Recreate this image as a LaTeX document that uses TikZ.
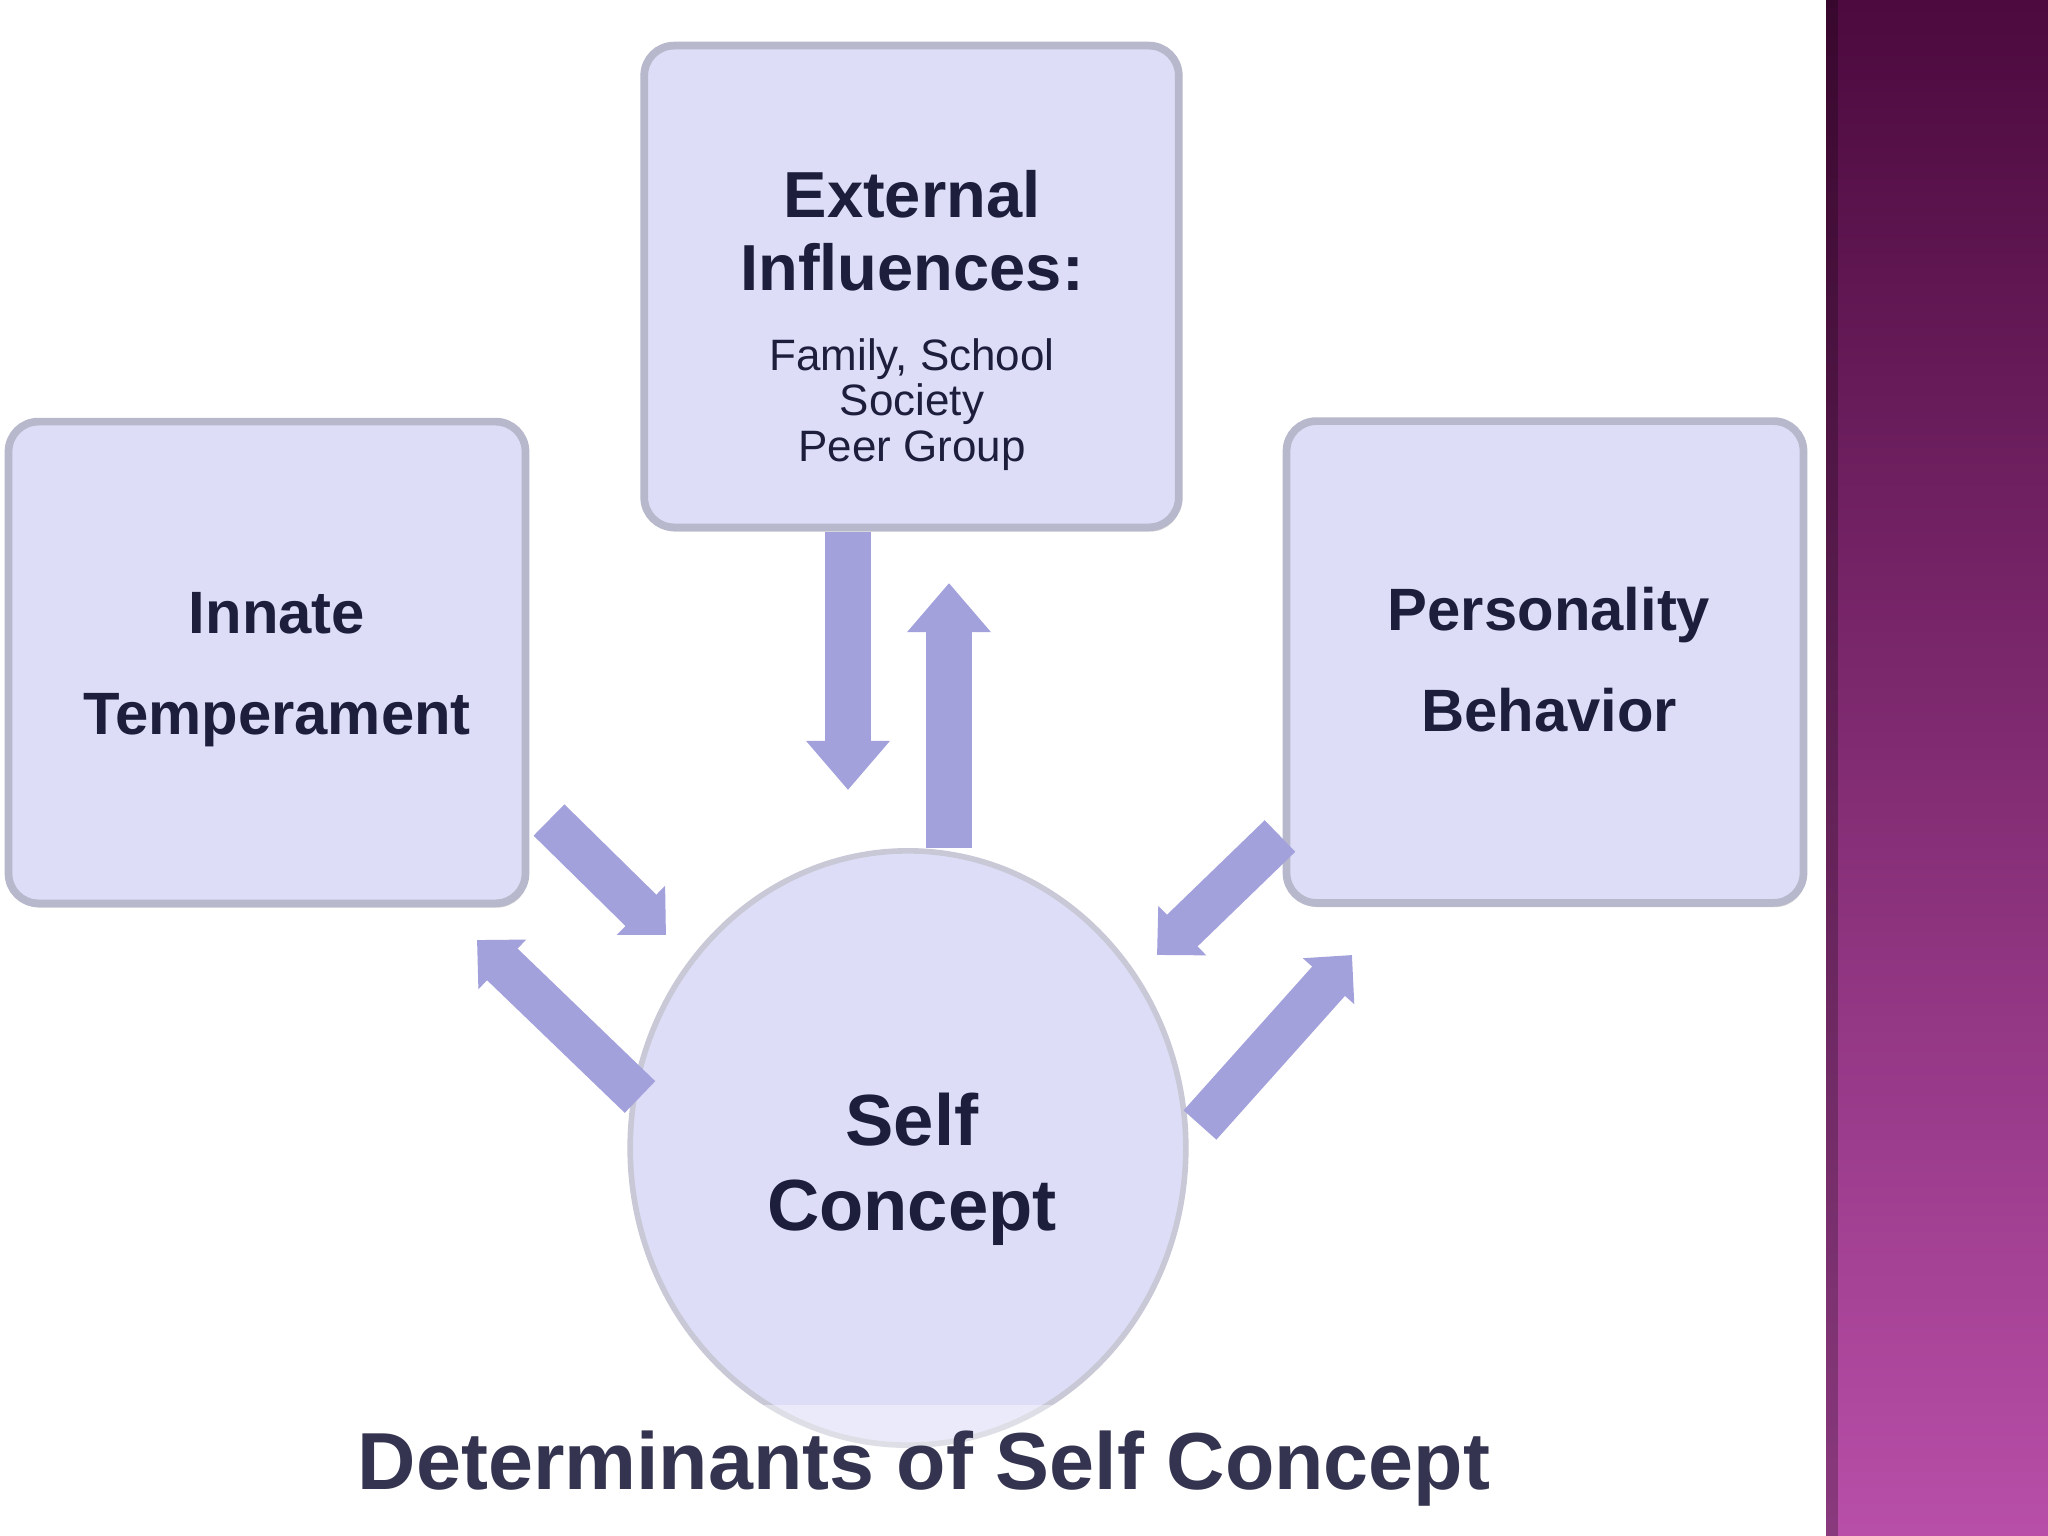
\documentclass[tikz,border=0pt]{standalone}
\usepackage{fontspec}
\setmainfont{Liberation Sans}
\usetikzlibrary{arrows.meta,shadows,shapes.geometric}
\definecolor{boxfill}{RGB}{221,221,247}
\definecolor{boxedge}{RGB}{184,184,204}
\definecolor{arrowc}{RGB}{163,161,220}
\definecolor{txtc}{RGB}{28,30,60}
\definecolor{titlec}{RGB}{52,52,80}
\definecolor{bandtop}{RGB}{76,10,62}
\definecolor{bandbot}{RGB}{184,78,168}
\definecolor{circedge}{RGB}{200,200,214}
\begin{document}
\begin{tikzpicture}[x=0.01cm,y=-0.01cm,
  boxnode/.style={rectangle, rounded corners=8.5pt, fill=boxfill, draw=boxedge,
    line width=2.2pt, inner sep=0pt, minimum height=137pt,
    drop shadow={shadow xshift=0.5pt, shadow yshift=-1.2pt, opacity=0.3}},
  selfnode/.style={ellipse, fill=boxfill, draw=circedge, line width=1.6pt,
    inner sep=0pt, minimum width=158pt, minimum height=169pt},
  bigtxt/.style={text=txtc, align=center, font=\fontsize{17}{28.5}\selectfont\bfseries, inner sep=0pt},
  vert/.style={draw=arrowc, line width=13.2pt, -{Triangle[length=14pt,width=23pt]}},
  diag/.style={draw=arrowc, line width=12.5pt, -{Triangle[length=10pt,width=19pt]}}
]
\fill[white] (0,0) rectangle (2048,1536);
\useasboundingbox (0,0) rectangle (2048,1536);
% magenta band
\shade[top color=bandtop, bottom color=bandbot] (1826,0) rectangle (2048,1536);
\fill[black, opacity=0.25] (1826,0) rectangle (1838,1536);

% boxes
\node[boxnode, minimum width=152pt] (top) at (911.5,286.5) {};
\node[boxnode, minimum width=147pt] (left) at (267,662.5) {};
\node[boxnode, minimum width=147pt] (right) at (1545,662) {};
\node[selfnode] (self) at (908,1148) {};

% texts (anchor = baseline of the last line)
\node[text=txtc, align=center, font=\fontsize{18.5}{20.5}\selectfont\bfseries, inner sep=0pt, anchor=base]
  (toptitle) at (912,290) {External\\Influences:};
\node[text=txtc, align=center, font=\fontsize{12.5}{12.9}\selectfont, inner sep=0pt, anchor=base]
  (toplist) at (912,461) {Family, School\\Society\\Peer Group};
\node[bigtxt, anchor=base] (lefttext) at (277,734) {Innate\\Temperament};
\node[bigtxt, anchor=base] (righttext) at (1549,731) {Personality\\Behavior};
\node[text=txtc, align=center, font=\fontsize{20.6}{24}\selectfont\bfseries, inner sep=0pt, anchor=base]
  (selftext) at (912,1230) {Self\\Concept};

% arrow end points
\coordinate (tdA) at (848,532);
\coordinate (tdB) at (848,790);
\coordinate (tuA) at (949,848);
\coordinate (tuB) at (949,583);
\coordinate (ldA) at (549,820);
\coordinate (ldB) at (666,935);
\coordinate (luA) at (640,1097);
\coordinate (luB) at (477,940);
\coordinate (rdA) at (1280,836);
\coordinate (rdB) at (1157,955);
\coordinate (ruA) at (1200,1125);
\coordinate (ruB) at (1352,955);

\draw[vert] (tdA) -- (tdB);
\draw[vert] (tuA) -- (tuB);
\draw[diag] (ldA) -- (ldB);
\draw[diag] (luA) -- (luB);
\draw[diag] (rdA) -- (rdB);
\draw[diag] (ruA) -- (ruB);

% title
\fill[white, opacity=0.4] (345,1405) rectangle (1500,1525);
\node[text=titlec, font=\fontsize{23}{27}\selectfont\bfseries, inner sep=0pt, anchor=base]
  (title) at (924,1489) {Determinants of Self Concept};
\end{tikzpicture}
\end{document}
